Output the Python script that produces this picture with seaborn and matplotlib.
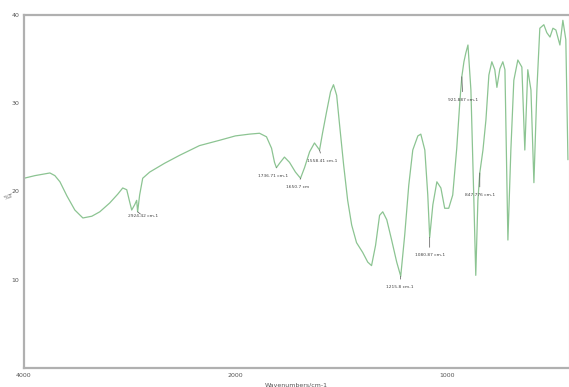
import numpy as np
import pandas as pd
import seaborn as sns
import matplotlib
matplotlib.use("Agg")
import matplotlib.pyplot as plt

# IR spectrum (wavenumber in cm-1, transmittance in %T)
wavenumber = [4000, 3896, 3802, 3755, 3708, 3660, 3594, 3519, 3443, 3358,
              3283, 3189, 3113, 3066, 3028, 3000, 2981, 2953, 2934, 2925,
              2906, 2877, 2811, 2670, 2528, 2340, 2151, 2000, 1934, 1886,
              1853, 1829, 1815, 1806, 1791, 1768, 1744, 1716, 1692, 1673,
              1649, 1626, 1611, 1602, 1588, 1569, 1550, 1536, 1521, 1507,
              1488, 1469, 1450, 1427, 1398, 1374, 1356, 1337, 1318, 1303,
              1284, 1261, 1237, 1218, 1199, 1180, 1161, 1137, 1123, 1104,
              1090, 1081, 1066, 1047, 1028, 1010, 991, 972, 953, 938,
              929, 919, 910, 900, 886, 872, 863, 853, 844, 829,
              815, 801, 787, 773, 763, 749, 735, 725, 711, 697,
              683, 664, 645, 631, 617, 602, 588, 574, 560, 541,
              527, 512, 498, 484, 465, 451, 437, 427]
transmittance = [21.5, 21.8, 22.0, 22.1, 21.8, 21.1, 19.5, 17.9, 17.0, 17.2,
                 17.7, 18.7, 19.7, 20.4, 20.2, 18.8, 17.9, 18.5, 19.0, 17.7,
                 19.6, 21.5, 22.2, 23.2, 24.1, 25.2, 25.8, 26.3, 26.5, 26.6,
                 26.2, 24.9, 23.3, 22.7, 23.2, 23.9, 23.3, 22.2, 21.5, 22.7,
                 24.5, 25.5, 25.0, 24.7, 26.6, 29.0, 31.3, 32.1, 30.9, 27.5,
                 23.0, 19.0, 16.2, 14.2, 13.1, 12.0, 11.6, 13.9, 17.3, 17.7,
                 16.8, 14.5, 12.0, 10.4, 15.1, 20.7, 24.7, 26.3, 26.5, 24.7,
                 19.6, 14.8, 18.5, 21.1, 20.4, 18.1, 18.1, 19.6, 24.9, 30.3,
                 33.0, 34.7, 35.7, 36.6, 31.5, 19.0, 10.5, 19.0, 22.1, 24.7,
                 28.1, 33.2, 34.7, 33.8, 31.8, 33.9, 34.7, 33.8, 14.5, 24.7,
                 32.6, 34.9, 34.1, 24.7, 33.8, 31.5, 21.0, 31.5, 38.5, 38.9,
                 38.0, 37.5, 38.5, 38.3, 36.6, 39.4, 37.2, 23.6]

# labelled peaks
peak_wn = [2925, 1806, 1692, 1602, 1218, 1081, 929, 844]
peak_T = [17.7, 22.7, 21.5, 24.7, 10.4, 14.8, 33.0, 22.1]
peak_labels = ["2924.42 cm-1", "1736.71 cm-1", "1650.7 cm", "1558.41 cm-1",
               "1215.8 cm-1", "1080.87 cm-1", "921.887 cm-1", "847.776 cm-1"]
label_offsets = [(5, -4), (-3, -8), (-3, -9), (3, -11),
                 (-1, -11), (0, -18), (1, -23), (0, -22)]

xticks = [4000, 2000, 1000]
xminor = [3000, 1500, 500]
yticks = [0, 10, 20, 30, 40]
ytick_labels = ["", "10", "20", "30", "40"]

df = pd.DataFrame({"wn": wavenumber, "T": transmittance})

sns.set_style("white")

fig = plt.figure(figsize=(5.69, 3.87), dpi=100)
ax = fig.add_axes([24 / 569, 19 / 387, 545 / 569, 353 / 387])


# spectrometer style axis: 2x expansion below 2000 cm-1
def fwd(w):
    w = np.asarray(w, dtype=float)
    return np.where(w >= 2000, 1 + (w - 2000) / 2000, 1 + (w - 2000) / 1000)


def inv(u):
    u = np.asarray(u, dtype=float)
    return np.where(u >= 1, 2000 + (u - 1) * 2000, 2000 + (u - 1) * 1000)


ax.set_xscale("function", functions=(fwd, inv))

sns.lineplot(data=df, x="wn", y="T", ax=ax, color="#8cc492", lw=0.9,
             estimator=None, sort=False)

for w, t, lab, off in zip(peak_wn, peak_T, peak_labels, label_offsets):
    ax.annotate(lab, xy=(w, t), xytext=off, textcoords="offset pixels",
                ha="center", va="center", fontsize=3.2, color="#444444",
                arrowprops=dict(arrowstyle="-", lw=0.5, color="#555555",
                                shrinkA=2, shrinkB=0))

ax.set_xlim(4000, 422)
ax.set_ylim(0, 40)
ax.set_xticks(xticks)
ax.set_xticklabels([str(v) for v in xticks])
ax.set_xticks(xminor, minor=True)
ax.set_yticks(yticks)
ax.set_yticklabels(ytick_labels)
ax.set_yticks([5, 15, 25, 35], minor=True)

ax.tick_params(axis="both", which="both", direction="inout", length=3,
               width=0.7, color="#888888", labelsize=4.5, labelcolor="#555555",
               pad=2)
ax.tick_params(axis="both", which="minor", length=2)

for s in ["left", "bottom", "top"]:
    ax.spines[s].set_color("#b0b0b0")
    ax.spines[s].set_linewidth(1.6)
ax.spines["right"].set_color("#d8d8d8")
ax.spines["right"].set_linewidth(0.8)

ax.set_ylabel("")
ax.set_xlabel("Wavenumbers/cm-1", fontsize=4.5, color="#555555", labelpad=3)
ax.text(-0.038, 0.485, "%T", transform=ax.transAxes, fontsize=4.5,
        color="#555555", rotation=20, ha="left", va="center")

plt.savefig("out.png", dpi=100)
